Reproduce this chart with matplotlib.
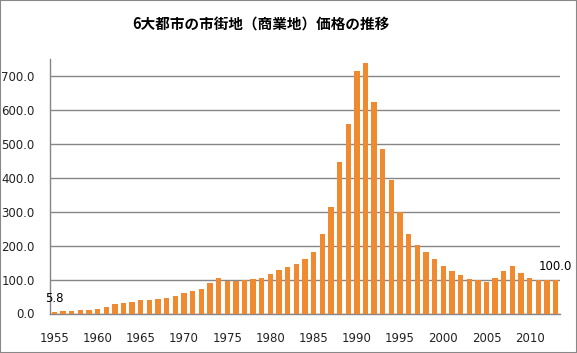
import numpy as np
import matplotlib
matplotlib.use("Agg")
import matplotlib.pyplot as plt
from matplotlib.patches import Rectangle

years = list(range(1955, 2014))
values = [5.8, 6.5, 8, 9, 10, 12, 20, 29, 32, 35,
          40, 40, 43, 47, 52, 61, 67, 72, 91, 105,
          96, 97, 99, 102, 105, 117, 128, 138, 146, 161,
          181, 235, 315, 447, 558, 716, 738, 623, 485, 394,
          299, 234, 202, 182, 161, 140, 125, 113, 103, 100,
          94, 104, 125, 140, 119, 104, 100, 100, 100]
tick_years = list(range(1955, 2015, 5))
title = "6大都市の市街地（商業地）価格の推移"

fig = plt.figure(figsize=(5.77, 3.53), dpi=100)
ax = fig.add_axes([50 / 577, 1 - 313.5 / 353, 510 / 577, 254.5 / 353])

x = np.arange(len(years))
ax.bar(x, values, width=0.62, color="#EF8A30", zorder=3)

ax.set_xlim(-0.5, len(years) - 0.5)
ax.set_ylim(0, 750)
ax.set_yticks(np.arange(0, 800, 100))
ax.set_yticklabels([f"{v:.1f}" for v in np.arange(0, 800, 100)])
ax.set_xticks([years.index(y) for y in tick_years])
ax.set_xticklabels([str(y) for y in tick_years])
ax.tick_params(axis="both", length=0, labelsize=8.5, colors="#222222")
ax.tick_params(axis="y", pad=11)
ax.tick_params(axis="x", pad=13)

ax.grid(axis="y", color="#868686", linewidth=1, zorder=0)
for s in ["top", "right"]:
    ax.spines[s].set_visible(False)
for s in ["left", "bottom"]:
    ax.spines[s].set_color("#868686")
    ax.spines[s].set_linewidth(1)

ax.annotate(f"{values[0]:.1f}", (x[0], values[0]), xytext=(0, 5),
            textcoords="offset points", ha="center", va="bottom", fontsize=8.5)
ax.annotate(f"{values[-1]:.1f}", (x[-1], values[-1]), xytext=(0, 5),
            textcoords="offset points", ha="center", va="bottom", fontsize=8.5)

fig.text(261 / 577, 1 - 25 / 353, title, ha="center", va="center",
         fontsize=10.5, fontweight="bold",
         family=["Noto Sans CJK JP", "DejaVu Sans"])

fig.patches.append(Rectangle((0, 0), 1, 1, transform=fig.transFigure,
                             fill=False, edgecolor="#888888", linewidth=1.5))

fig.savefig("out.png", dpi=100)
